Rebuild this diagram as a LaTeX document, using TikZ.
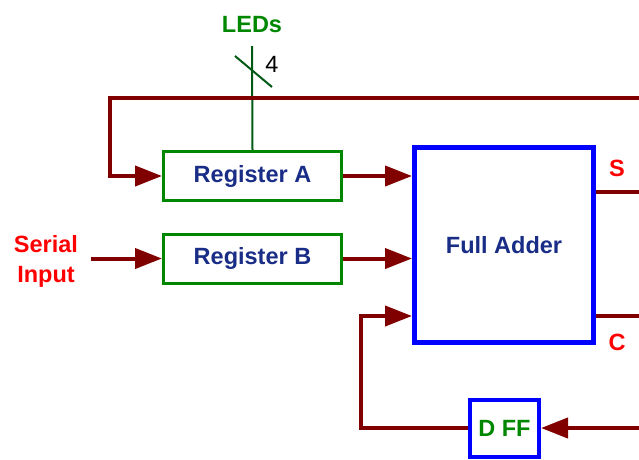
\documentclass[tikz,border=0pt]{standalone}
\usepackage{fontspec}
\setmainfont{Liberation Sans}
\usepackage{xcolor}
\usepackage{tikz}
\usetikzlibrary{arrows.meta}

\definecolor{wire}{RGB}{128,0,0}
\definecolor{regGreen}{RGB}{0,135,0}
\definecolor{ledGreen}{RGB}{0,90,20}
\definecolor{boxBlue}{RGB}{0,0,255}
\definecolor{txtBlue}{RGB}{25,45,135}
\definecolor{lblRed}{RGB}{255,0,0}

\begin{document}
\begin{tikzpicture}[x=1pt, y=-1pt,
  every node/.style={font=\fontsize{23.5}{30}\selectfont\bfseries},
  regbox/.style={draw=regGreen, line width=3pt, minimum width=178pt,
                 minimum height=49pt, text=txtBlue, inner sep=0pt},
  bluebox/.style={draw=boxBlue, line width=5pt, inner sep=0pt},
  bus/.style={draw=wire, line width=4pt},
  busarrow/.style={bus, -{Triangle[length=27pt, width=20pt]}}]

  \useasboundingbox (0,0) rectangle (639,459);

  % Blocks
  \node[regbox] (regA) at (252.5, 176) {Register A};
  \node[regbox] (regB) at (252.5, 258.5) {Register B};
  \node[bluebox, minimum width=179pt, minimum height=195pt,
        text=txtBlue] (fa) at (504, 245) {Full Adder};
  \node[bluebox, line width=4pt, minimum width=69pt, minimum height=57pt,
        text=regGreen] (dff) at (504.5, 428) {D FF};

  % Labels
  \node[text=regGreen] (leds) at (252, 25) {LEDs};
  \node[font=\fontsize{23.5}{30}\selectfont] (width) at (272, 64) {4};
  \node[text=lblRed, align=center] (ser) at (46, 261) {Serial\\Input};
  \node[text=lblRed] (sLbl) at (617, 168) {S};
  \node[text=lblRed] (cLbl) at (617, 342) {C};

  % Free ends at the edge of the picture
  \coordinate (ledTop) at (252, 46);
  \coordinate (topR) at (639, 98);
  \coordinate (sOut) at (639, 192);
  \coordinate (cOut) at (639, 316);
  \coordinate (dIn) at (639, 428);

  % LED bus
  \draw[ledGreen, line width=2pt] (regA.north) -- (ledTop);
  \draw[ledGreen, line width=2pt] (235, 56) -- (272, 87);

  % Wires
  \draw[busarrow] (topR) -- (110, 98) |- (regA.west);
  \draw[busarrow] ([xshift=9pt]ser.east |- regB.west) -- (regB.west);
  \draw[busarrow] (regA.east) -- (regA.east -| fa.west);
  \draw[busarrow] (regB.east) -- (regB.east -| fa.west);
  \draw[bus] (fa.east |- sOut) -- (sOut);
  \draw[bus] (fa.east |- cOut) -- (cOut);
  \draw[busarrow] (dff.west) -- (361, 428) |- (fa.west |- cOut);
  \draw[busarrow] (dIn) -- (dff.east);
\end{tikzpicture}
\end{document}
